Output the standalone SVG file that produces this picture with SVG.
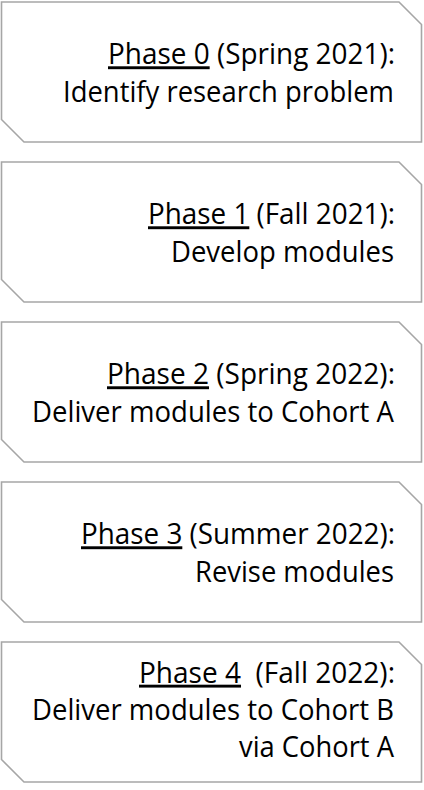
<svg xmlns="http://www.w3.org/2000/svg" width="424" height="790" viewBox="0 0 424 790">
<style>
.box{fill:#ffffff;stroke:#a6a6a6;stroke-width:1.6}
.t{font-family:"Open Sans","Noto Sans","DejaVu Sans",sans-serif;font-size:29px;fill:#000000;text-anchor:end}
.u{text-decoration:underline}
</style>
<defs>
<path id="shape" d="M1.5,2 H399 L421.5,24.5 V142 H24 L1.5,119.5 Z"/>
</defs>
<rect width="424" height="790" fill="#ffffff"/>
<g id="connectors"></g>
<g id="phase0">
<use href="#shape" class="box"/>
<text class="t" x="395" y="64.3" textLength="287" lengthAdjust="spacingAndGlyphs"><tspan class="u">Phase 0</tspan> (Spring 2021):</text>
<text class="t" x="394" y="101.7" textLength="331" lengthAdjust="spacingAndGlyphs">Identify research problem</text>
</g>
<g id="phase1" transform="translate(0,160)">
<use href="#shape" class="box"/>
<text class="t" x="395" y="64.3" textLength="247" lengthAdjust="spacingAndGlyphs"><tspan class="u">Phase 1</tspan> (Fall 2021):</text>
<text class="t" x="394" y="101.7" textLength="223" lengthAdjust="spacingAndGlyphs">Develop modules</text>
</g>
<g id="phase2" transform="translate(0,320)">
<use href="#shape" class="box"/>
<text class="t" x="395" y="64.3" textLength="288" lengthAdjust="spacingAndGlyphs"><tspan class="u">Phase 2</tspan> (Spring 2022):</text>
<text class="t" x="394" y="101.7" textLength="362" lengthAdjust="spacingAndGlyphs">Deliver modules to Cohort A</text>
</g>
<g id="phase3" transform="translate(0,480)">
<use href="#shape" class="box"/>
<text class="t" x="395" y="64.3" textLength="314" lengthAdjust="spacingAndGlyphs"><tspan class="u">Phase 3</tspan> (Summer 2022):</text>
<text class="t" x="394" y="101.7" textLength="199" lengthAdjust="spacingAndGlyphs">Revise modules</text>
</g>
<g id="phase4" transform="translate(0,640)">
<use href="#shape" class="box"/>
<text class="t" x="395" y="42.7" textLength="256" lengthAdjust="spacingAndGlyphs"><tspan class="u">Phase 4</tspan>&#160; (Fall 2022):</text>
<text class="t" x="394" y="80" textLength="362" lengthAdjust="spacingAndGlyphs">Deliver modules to Cohort B</text>
<text class="t" x="394" y="117.3" textLength="155" lengthAdjust="spacingAndGlyphs">via Cohort A</text>
</g>
</svg>
